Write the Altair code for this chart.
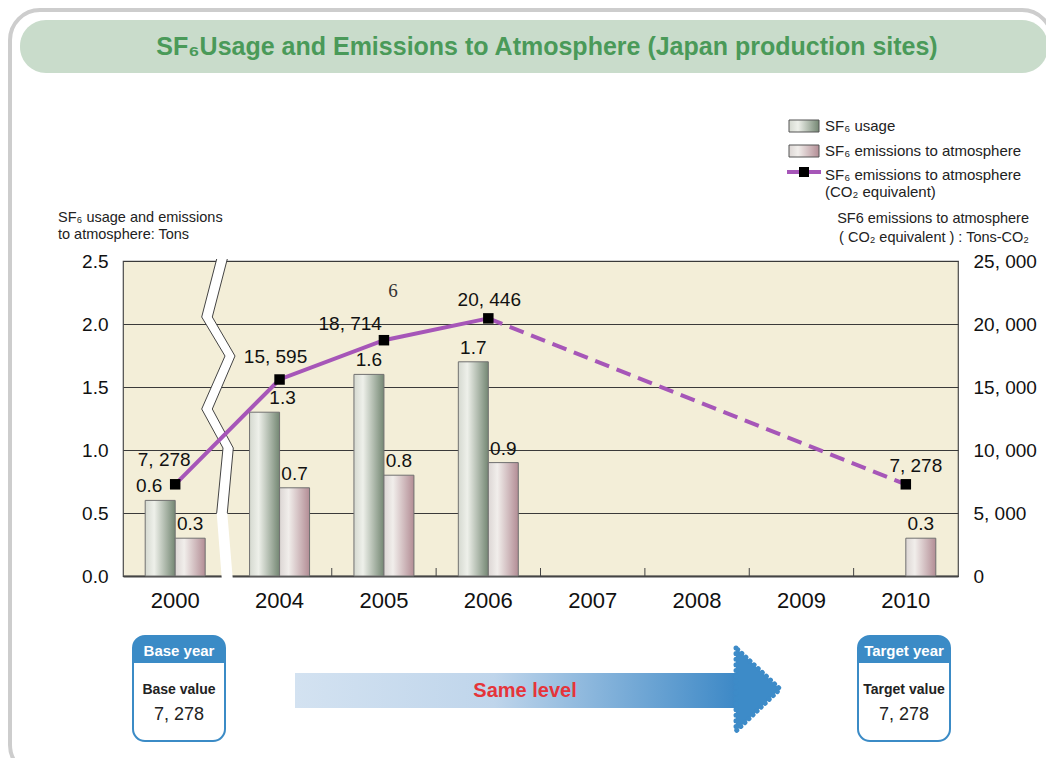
import altair as alt
import pandas as pd

# ---------------- data ----------------
years = ["2000", "2004", "2005", "2006", "2007", "2008", "2009", "2010"]
usage = [0.6, 1.3, 1.6, 1.7, None, None, None, None]
emissions = [0.3, 0.7, 0.8, 0.9, None, None, None, 0.3]
co2 = [7278, 15595, 18714, 20446, None, None, None, 7278]
left_ticks = [0.0, 0.5, 1.0, 1.5, 2.0, 2.5]
right_ticks = [0, 5000, 10000, 15000, 20000, 25000]
solid_years = ["2000", "2004", "2005", "2006"]
dashed_years = ["2006", "2010"]

# ---------------- layout constants ----------------
PX, PY = 123, 261          # page position of plot origin
W, H = 835, 315
NUM_FONT = "Liberation Sans Narrow, Liberation Sans, Arial, sans-serif"
SANS = "Liberation Sans, Arial, sans-serif"
PURPLE = "#a656b8"
BLUE = "#3b8bc6"


def fmt_int(v):
    return f"{int(v):,}".replace(",", ", ")


rows = []
for y, u, e in zip(years, usage, emissions):
    if u is not None:
        rows.append({"year": y, "series": "usage", "value": u})
    if e is not None:
        rows.append({"year": y, "series": "emission", "value": e})
df_bars = pd.DataFrame(rows)
df_co2 = pd.DataFrame([{"year": y, "co2": c} for y, c in zip(years, co2) if c is not None])
df_ticks = pd.DataFrame({"year": years[2:]})
one = pd.DataFrame({"k": [0]})

xscale = alt.Scale(type="band", domain=years, paddingInner=0, paddingOuter=0)
offscale = alt.Scale(domain=["usage", "emission"], paddingInner=0, paddingOuter=0.74)
yl = alt.Scale(domain=[0, 2.5])
yr = alt.Scale(domain=[0, 25000])


def grad(stops):
    return alt.Gradient(gradient="linear",
                        stops=[alt.GradientStop(offset=o, color=c) for o, c in stops],
                        x1=0, x2=1, y1=0, y2=0)


G_USAGE = grad([(0, "#d5d9d0"), (0.3, "#eef0ea"), (1, "#748773")])
G_EMIS = grad([(0, "#dcd6d4"), (0.3, "#f1eeeb"), (1, "#b38d95")])
G_ARROW = grad([(0, "#d3e2f1"), (0.45, "#bfd5eb"), (1, "#3c88c6")])


def rect(x1, y1, x2, y2, **kw):
    return alt.Chart(one).mark_rect(**kw).encode(
        x=alt.value(x1 - PX), x2=alt.value(x2 - PX),
        y=alt.value(y1 - PY), y2=alt.value(y2 - PY))


def text(t, x, y, **kw):
    kw.setdefault("font", SANS)
    kw.setdefault("baseline", "middle")
    return alt.Chart(one).mark_text(text=t, **kw).encode(
        x=alt.value(x - PX), y=alt.value(y - PY))


layers = []

# ---------- page decorations ----------
layers.append(rect(10, 10, 1052, 775, cornerRadius=30, fillOpacity=0,
                   stroke="#cdcdcd", strokeWidth=4))
layers.append(rect(20, 20, 1048, 73, cornerRadius=26, fill="#c9dccb"))
layers.append(text("SF₆Usage and Emissions to Atmosphere (Japan production sites)",
                   547, 47, font=NUM_FONT, fontSize=25, fontWeight="bold",
                   color="#4a9a59", align="center"))

# legend
layers.append(rect(789, 120, 819, 132, fill=G_USAGE, stroke="#555", strokeWidth=1))
layers.append(text("SF₆ usage", 825, 126, fontSize=15, color="#222", align="left"))
layers.append(rect(789, 145, 819, 157, fill=G_EMIS, stroke="#555", strokeWidth=1))
layers.append(text("SF₆ emissions to atmosphere", 825, 151, fontSize=15, color="#222", align="left"))
layers.append(alt.Chart(one).mark_rule(color=PURPLE, strokeWidth=4).encode(
    x=alt.value(787 - PX), x2=alt.value(821 - PX), y=alt.value(172 - PY)))
layers.append(alt.Chart(one).mark_point(shape="square", filled=True, color="black",
                                        size=100, opacity=1).encode(
    x=alt.value(804 - PX), y=alt.value(172 - PY)))
layers.append(text("SF₆ emissions to atmosphere", 825, 175, fontSize=15, color="#222", align="left"))
layers.append(text("(CO₂ equivalent)", 825, 192, fontSize=15, color="#222", align="left"))

# axis titles
layers.append(text("SF₆ usage and emissions", 58, 218, fontSize=14.5, color="#222", align="left"))
layers.append(text("to atmosphere: Tons", 58, 235, fontSize=14.5, color="#222", align="left"))
layers.append(text("SF6 emissions to atmosphere", 1029, 219, fontSize=14.5, color="#222", align="right"))
layers.append(text("( CO₂ equivalent ) : Tons-CO₂", 1029, 238, fontSize=14.5, color="#222", align="right"))

# ---------- bars ----------
x_axis = alt.Axis(orient="bottom", title=None, labelAngle=0, labelFontSize=22,
                  labelPadding=14, ticks=False, domain=True, domainColor="#444",
                  domainWidth=2, grid=False, labelColor="#111")
yl_axis = alt.Axis(orient="left", title=None, values=left_ticks, format=".1f",
                   labelFontSize=19, labelPadding=15, ticks=False, domain=False,
                   grid=True, gridColor="#3a3a3a", gridWidth=1, labelColor="#111")
yr_axis = alt.Axis(orient="right", title=None, values=right_ticks,
                   labelExpr="replace(format(datum.value, ','), ',', ', ')",
                   labelFontSize=19, labelPadding=15, ticks=False, domain=False,
                   grid=False, labelColor="#111")

layers.append(alt.Chart(df_bars).transform_filter("datum.series == 'usage'").mark_bar(
    fill=G_USAGE, stroke="#707070", strokeWidth=1).encode(
    x=alt.X("year:N", scale=xscale, axis=x_axis),
    xOffset=alt.XOffset("series:N", scale=offscale),
    y=alt.Y("value:Q", scale=yl, axis=yl_axis)))
layers.append(alt.Chart(df_bars).transform_filter("datum.series == 'emission'").mark_bar(
    fill=G_EMIS, stroke="#707070", strokeWidth=1).encode(
    x=alt.X("year:N", scale=xscale, axis=None),
    xOffset=alt.XOffset("series:N", scale=offscale),
    y=alt.Y("value:Q", scale=yl, axis=None)))

# inward ticks on bottom axis
layers.append(alt.Chart(df_ticks).mark_rule(color="#444", strokeWidth=1).encode(
    x=alt.X("year:N", scale=xscale, axis=None, bandPosition=0),
    y=alt.value(H - 8), y2=alt.value(H)))

# bar labels
def bar_label(series, dx, flt=None):
    c = alt.Chart(df_bars).transform_filter(f"datum.series == '{series}'")
    if flt:
        c = c.transform_filter(flt)
    return c.mark_text(font=NUM_FONT, fontSize=19, color="#111", baseline="bottom",
                       dy=-4, dx=dx).encode(
        x=alt.X("year:N", scale=xscale, axis=None),
        y=alt.Y("value:Q", scale=yl, axis=None),
        text=alt.Text("value:Q", format=".1f"))


layers.append(bar_label("usage", -15, "datum.year != '2000' && datum.year != '2004'"))
layers.append(bar_label("usage", -26, "datum.year == '2000'"))
layers.append(bar_label("usage", 3, "datum.year == '2004'"))
layers.append(bar_label("emission", 15))

# ---------- axis break ----------
brk = pd.DataFrame({
    "i": [0, 1, 2, 3, 4, 5, 6],
    "y": [-2, 56, 95, 148, 187, 252, 317],
    "xl": [93.7, 78.7, 102, 78.7, 100, 93.7, 98.7],
    "xr": [104.3, 89.3, 112, 89.3, 110.3, 104.3, 109.7],
})
layers.append(alt.Chart(brk).mark_area(orient="horizontal", fill="white", opacity=1).encode(
    y=alt.Y("y:Q", scale=None, axis=None),
    x=alt.X("xl:Q", scale=None, axis=None, stack=None),
    x2="xr:Q"))
for col in ["xl", "xr"]:
    layers.append(alt.Chart(brk).transform_filter("datum.i < 6").mark_line(
        color="#444", strokeWidth=1).encode(
        x=alt.X(f"{col}:Q", scale=None, axis=None),
        y=alt.Y("y:Q", scale=None, axis=None),
        order="i:Q"))

# ---------- CO2 line ----------
layers.append(alt.Chart(df_co2).transform_filter(
    alt.FieldOneOfPredicate(field="year", oneOf=solid_years)).mark_line(
    color=PURPLE, strokeWidth=4).encode(
    x=alt.X("year:N", scale=xscale, axis=None),
    y=alt.Y("co2:Q", scale=yr, axis=None)))
layers.append(alt.Chart(df_co2).transform_filter(
    alt.FieldOneOfPredicate(field="year", oneOf=dashed_years)).mark_line(
    color=PURPLE, strokeWidth=4, strokeDash=[15, 8]).encode(
    x=alt.X("year:N", scale=xscale, axis=None),
    y=alt.Y("co2:Q", scale=yr, axis=None)))
layers.append(alt.Chart(df_co2).mark_point(shape="square", filled=True, color="black",
                                           size=110, opacity=1).encode(
    x=alt.X("year:N", scale=xscale, axis=None),
    y=alt.Y("co2:Q", scale=yr, axis=yr_axis)))


def co2_label(flt, align, dx, dy):
    return alt.Chart(df_co2).transform_filter(flt).transform_calculate(
        lab="replace(format(datum.co2, ','), ',', ', ')").mark_text(
        font=NUM_FONT, fontSize=19, color="#111", baseline="middle",
        align=align, dx=dx, dy=dy).encode(
        x=alt.X("year:N", scale=xscale, axis=None),
        y=alt.Y("co2:Q", scale=yr, axis=None),
        text="lab:N")


layers.append(co2_label("datum.year == '2000'", "center", -11, -24))
layers.append(co2_label("datum.year == '2004'", "center", -4, -23))
layers.append(co2_label("datum.year == '2005'", "right", -2, -16))
layers.append(co2_label("datum.year == '2006'", "center", 1, -18))
layers.append(co2_label("datum.year == '2010'", "center", 10, -18))

layers.append(text("6", 393, 291, font="Liberation Serif, serif", fontSize=19,
                   color="#333", align="center"))

# ---------- bottom panel ----------
for x1, x2, head, sub, val in [(133, 225, "Base year", "Base value", co2[0]),
                               (858, 950, "Target year", "Target value", co2[-1])]:
    cx = (x1 + x2) / 2
    layers.append(rect(x1, 636, x2, 741, cornerRadius=12, fill="white",
                       stroke=BLUE, strokeWidth=2))
    layers.append(rect(x1, 636, x2, 663, cornerRadiusTopLeft=12, cornerRadiusTopRight=12,
                       fill=BLUE))
    layers.append(text(head, cx, 651, fontSize=15, fontWeight="bold", color="white",
                       align="center"))
    layers.append(text(sub, cx, 690, fontSize=14, fontWeight="bold", color="#222",
                       align="center"))
    layers.append(text(fmt_int(val), cx, 715, font=NUM_FONT, fontSize=18, color="#222",
                       align="center"))

layers.append(rect(295, 673, 738, 708, fill=G_ARROW))
arrow = pd.DataFrame({"i": [0, 1, 2], "y": [648, 689, 731], "x2": [736, 780, 736]})
layers.append(alt.Chart(arrow).transform_calculate(
    yy=f"datum.y - {PY}", xa=f"{736 - PX}", xb=f"datum.x2 - {PX}").mark_area(
    orient="horizontal", fill="#3d8bc8", stroke="#3d8bc8", strokeWidth=5,
    strokeDash=[0.1, 5.5], strokeCap="round", opacity=1).encode(
    y=alt.Y("yy:Q", scale=None, axis=None),
    x=alt.X("xa:Q", scale=None, axis=None, stack=None),
    x2="xb:Q"))
layers.append(text("Same level", 525, 691, fontSize=20, fontWeight="bold",
                   color="#e5343a", align="center"))

chart = alt.layer(*layers).resolve_scale(
    x="independent", y="independent", xOffset="independent"
).properties(
    width=W, height=H,
    autosize=alt.AutoSizeParams(type="none"),
    padding={"left": PX - 8, "top": PY - 8, "right": 1038 - (PX - 8) - W,
             "bottom": 750 - (PY - 8) - H},
).configure_view(
    fill="#f3eed8", stroke="#4a4a4a", strokeWidth=1.2
).configure_axis(
    labelFont=NUM_FONT
)

chart.save("out.html", embed_options={"renderer": "svg", "actions": False})
